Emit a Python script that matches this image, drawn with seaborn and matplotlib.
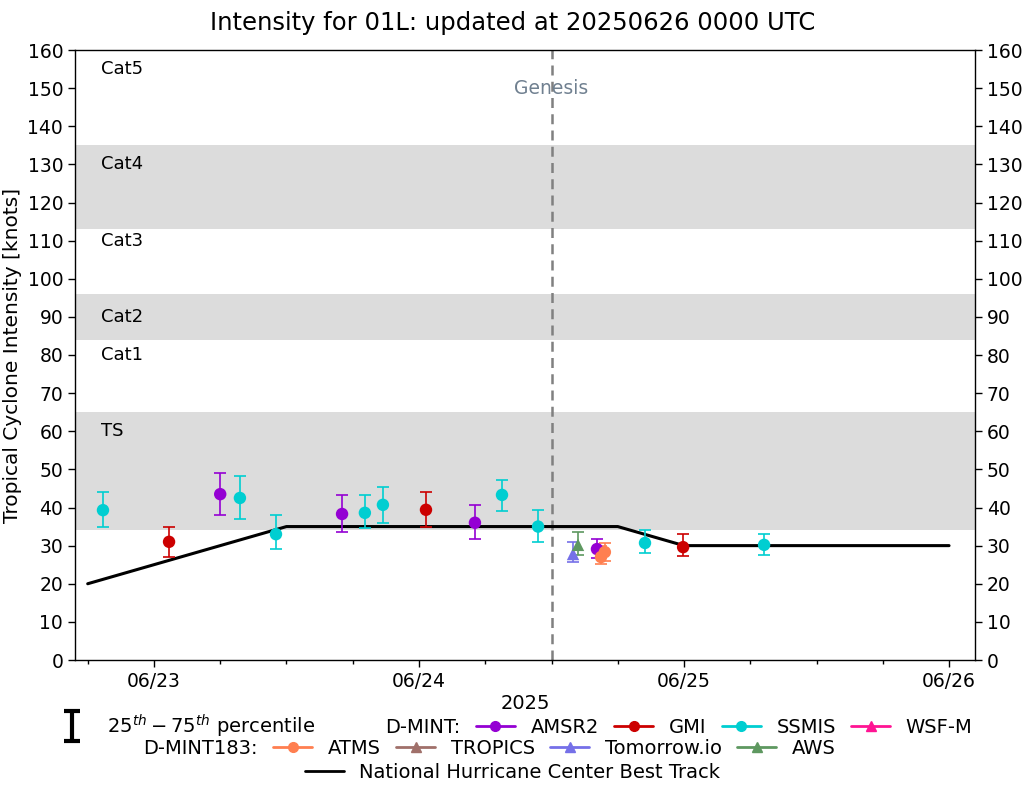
import matplotlib
matplotlib.use("Agg")
import matplotlib.pyplot as plt
import matplotlib.dates as mdates
from matplotlib.lines import Line2D
from matplotlib.path import Path
import seaborn as sns
import pandas as pd

# ---------------- data ----------------
title = "Intensity for 01L: updated at 20250626 0000 UTC"

bt_times = ["2025-06-22 18:00", "2025-06-23 00:00", "2025-06-23 06:00", "2025-06-23 12:00",
            "2025-06-23 18:00", "2025-06-24 00:00", "2025-06-24 06:00", "2025-06-24 12:00",
            "2025-06-24 18:00", "2025-06-25 00:00", "2025-06-25 06:00", "2025-06-25 12:00",
            "2025-06-25 18:00", "2025-06-26 00:00"]
bt_vmax = [20, 25, 30, 35, 35, 35, 35, 35, 35, 30, 30, 30, 30, 30]

ssmis_times = ["2025-06-22 19:23", "2025-06-23 07:47", "2025-06-23 11:03", "2025-06-23 19:06",
               "2025-06-23 20:44", "2025-06-24 07:31", "2025-06-24 10:47", "2025-06-24 20:28",
               "2025-06-25 07:15"]
ssmis_vmax = [39.3, 42.5, 33.0, 38.6, 40.7, 43.3, 35.0, 30.7, 30.2]
ssmis_p25 = [35.0, 37.0, 29.0, 34.5, 36.0, 39.0, 31.0, 28.0, 27.5]
ssmis_p75 = [44.0, 48.3, 38.0, 43.3, 45.5, 47.3, 39.3, 34.0, 33.0]

gmi_times = ["2025-06-23 01:22", "2025-06-24 00:38", "2025-06-24 23:55"]
gmi_vmax = [31.0, 39.4, 29.6]
gmi_p25 = [27.0, 35.0, 27.3]
gmi_p75 = [35.0, 44.0, 33.0]

amsr2_times = ["2025-06-23 06:00", "2025-06-23 17:02", "2025-06-24 05:04", "2025-06-24 16:07"]
amsr2_vmax = [43.5, 38.3, 36.0, 29.1]
amsr2_p25 = [38.0, 33.5, 31.7, 26.8]
amsr2_p75 = [49.0, 43.3, 40.7, 31.7]

atms_times = ["2025-06-24 16:29", "2025-06-24 16:50"]
atms_vmax = [27.0, 28.3]
atms_p25 = [25.3, 26.0]
atms_p75 = [29.8, 30.7]

tmrw_times = ["2025-06-24 13:57"]
tmrw_vmax = [27.8]
tmrw_p25 = [25.7]
tmrw_p75 = [31.0]

aws_times = ["2025-06-24 14:24"]
aws_vmax = [30.2]
aws_p25 = [27.5]
aws_p75 = [33.6]

genesis_time = "2025-06-24 12:00"

cat_bands = [(34, 65), (84, 96), (113, 135)]
cat_labels = ["TS", "Cat1", "Cat2", "Cat3", "Cat4", "Cat5"]
cat_label_y = [60, 80, 90, 110, 130, 155]

# ---------------- style ----------------
sns.set_style("white")
plt.rcParams['font.family'] = ['DejaVu Sans']
for k in ["text.color", "axes.labelcolor", "xtick.color", "ytick.color", "axes.edgecolor"]:
    plt.rcParams[k] = "black"
FS = 13.5
LFS = 14

fig = plt.figure(figsize=(10.25, 7.85), dpi=100)
ax = fig.add_axes([75 / 1025, 1 - 660 / 785, 900 / 1025, 610 / 785])

x_left = pd.Timestamp("2025-06-22 16:51")
x_right = pd.Timestamp("2025-06-26 02:21")

for lo, hi in cat_bands:
    ax.axhspan(lo, hi, color="#dcdcdc", lw=0, zorder=0)

for lab, yy in zip(cat_labels, cat_label_y):
    ax.text(pd.Timestamp("2025-06-22 19:12"), yy, lab, fontsize=FS - 0.5,
            ha="left", va="center", zorder=1)

ax.axvline(pd.Timestamp(genesis_time), color="gray", ls=(0, (4, 2.5)), lw=1.8, zorder=1)
ax.text(pd.Timestamp(genesis_time), 150, "Genesis", color="slategray",
        fontsize=FS, ha="center", va="center")

bt = pd.DataFrame({"time": pd.to_datetime(bt_times), "vmax": bt_vmax})
sns.lineplot(data=bt, x="time", y="vmax", color="black", lw=2.2, ax=ax, zorder=3,
             legend=False)

sensors = [
    ("AMSR2", amsr2_times, amsr2_vmax, amsr2_p25, amsr2_p75, "#9400D3", "o"),
    ("GMI", gmi_times, gmi_vmax, gmi_p25, gmi_p75, "#CC0000", "o"),
    ("SSMIS", ssmis_times, ssmis_vmax, ssmis_p25, ssmis_p75, "#00CED1", "o"),
    ("Tomorrow.io", tmrw_times, tmrw_vmax, tmrw_p25, tmrw_p75, "#7570E8", "^"),
    ("AWS", aws_times, aws_vmax, aws_p25, aws_p75, "#5E9860", "^"),
    ("ATMS", atms_times, atms_vmax, atms_p25, atms_p75, "#FF7F50", "o"),
]
for name, t, v, lo, hi, col, mk in sensors:
    tt = pd.to_datetime(t)
    yerr = [[a - b for a, b in zip(v, lo)], [b - a for a, b in zip(v, hi)]]
    ax.errorbar(tt, v, yerr=yerr, fmt="none", ecolor=col, elinewidth=1.2,
                capsize=4.5, capthick=1.2, zorder=4)
    df = pd.DataFrame({"time": tt, "vmax": v})
    sns.scatterplot(data=df, x="time", y="vmax", color=col, marker=mk, s=80,
                    edgecolor="none", ax=ax, zorder=5, legend=False)

ax.set_xlim(x_left, x_right)
ax.set_ylim(0, 160)
ax.set_yticks(range(0, 161, 10))
ax.xaxis.set_major_locator(mdates.DayLocator())
ax.xaxis.set_major_formatter(mdates.DateFormatter("%m/%d"))
ax.xaxis.set_minor_locator(mdates.HourLocator(byhour=[6, 12, 18]))
ax.tick_params(axis="both", which="major", labelsize=FS, length=5, width=1,
               direction="out", bottom=True, left=True)
ax.tick_params(axis="x", which="minor", length=3, width=1, bottom=True)
ax.set_xlabel("2025", fontsize=LFS, labelpad=2)
ax.set_ylabel("Tropical Cyclone Intensity [knots]", fontsize=14.5)
for s in ax.spines.values():
    s.set_color("black")
    s.set_linewidth(1)

ax2 = ax.twinx()
ax2.set_ylim(0, 160)
ax2.set_yticks(range(0, 161, 10))
ax2.tick_params(axis="y", labelsize=FS, length=5, width=1, right=True)
ax2.grid(False)
for s in ax2.spines.values():
    s.set_visible(False)

fig.text(0.5, 1 - 23 / 785, title, fontsize=17.5, ha="center", va="center")

# ---------------- legends ----------------
ibeam = Path([(-0.5, 1), (0.5, 1), (0, 1), (0, -1), (-0.5, -1), (0.5, -1)],
             [Path.MOVETO, Path.LINETO, Path.MOVETO, Path.LINETO, Path.MOVETO, Path.LINETO])
h_pct = Line2D([], [], ls="none", marker=ibeam, markersize=22, markeredgewidth=3,
               color="black")
blank = Line2D([], [], ls="none", marker=None, alpha=0)

def lh(col, mk):
    return Line2D([], [], color=col, marker=mk, lw=2, markersize=7)

leg_kw = dict(frameon=False, fontsize=LFS, handlelength=2.0, handletextpad=0.8,
              columnspacing=0.8, borderpad=0, borderaxespad=0)

row1 = [h_pct, blank, lh("#9400D3", "o"), lh("#CC0000", "o"), lh("#00CED1", "o"),
        lh("#FF1493", "^")]
lab1 = [r"$25^{th} - 75^{th}$ percentile", "D-MINT:", "AMSR2", "GMI", "SSMIS", "WSF-M"]
fig.legend(row1, lab1, loc="center", ncol=6, bbox_to_anchor=(0.5, 1 - 726 / 785),
           **leg_kw)

row2 = [blank, lh("#FF7F50", "o"), lh("#A0706A", "^"), lh("#7570E8", "^"),
        lh("#5E9860", "^")]
lab2 = ["D-MINT183:", "ATMS", "TROPICS", "Tomorrow.io", "AWS"]
fig.legend(row2, lab2, loc="center", ncol=5, bbox_to_anchor=(0.451, 1 - 748 / 785),
           **leg_kw)

row3 = [Line2D([], [], color="black", lw=2)]
lab3 = ["National Hurricane Center Best Track"]
fig.legend(row3, lab3, loc="center", ncol=1, bbox_to_anchor=(0.5, 1 - 772 / 785),
           **leg_kw)

fig.savefig("out.png", dpi=100)
